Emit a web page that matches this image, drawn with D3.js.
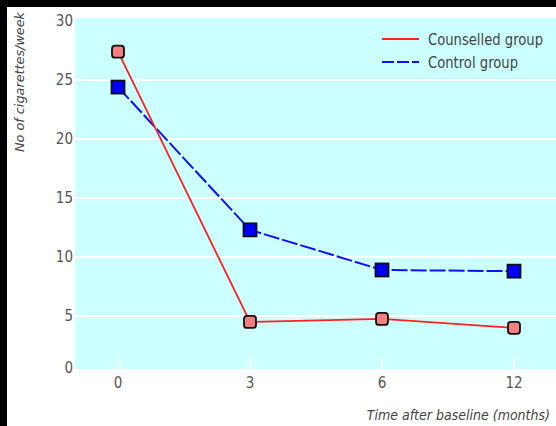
<!DOCTYPE html>
<html>
<head>
<meta charset="utf-8">
<script src="https://cdn.jsdelivr.net/npm/d3@7"></script>
<style>
  html, body { margin: 0; padding: 0; background: #fff; }
  svg { display: block; }
  text { font-family: "DejaVu Sans Condensed", "Liberation Sans Narrow", "DejaVu Sans", sans-serif; font-stretch: condensed; }
</style>
</head>
<body>
<svg id="chart" width="556" height="426"></svg>
<script>
// ---- data ----
const months = ["0", "3", "6", "12"];
const counselled = [27.4, 4.5, 4.75, 4.0];
const control = [24.4, 12.3, 8.9, 8.8];
const yTicks = [0, 5, 10, 15, 20, 25, 30];
const seriesNames = ["Counselled group", "Control group"];
const yTitle = "No of cigarettes/week";
const xTitle = "Time after baseline (months)";

const W = 556, H = 426;
const svg = d3.select("#chart");

// black frame strips (top and left)
svg.append("rect").attr("x", 0).attr("y", 0).attr("width", W).attr("height", 7).attr("fill", "#000");
svg.append("rect").attr("x", 0).attr("y", 0).attr("width", 7).attr("height", H).attr("fill", "#000");

const panel = { left: 75, top: 18, right: 556, bottom: 369 };

const x = d3.scalePoint().domain(months).range([118, 514]);
const y = d3.scaleLinear().domain([0, 30]).range([375, 21]);

// panel background
svg.append("rect")
  .attr("x", panel.left).attr("y", panel.top)
  .attr("width", panel.right - panel.left).attr("height", panel.bottom - panel.top)
  .attr("fill", "#ccffff");

// gridlines
svg.append("g").selectAll("line")
  .data(yTicks.filter(t => t > 0 && t < 30))
  .join("line")
  .attr("x1", panel.left).attr("x2", panel.right)
  .attr("y1", d => y(d)).attr("y2", d => y(d))
  .attr("stroke", "#fff").attr("stroke-width", 2);

// x tick marks (white, inside panel bottom)
svg.append("g").selectAll("line")
  .data(months)
  .join("line")
  .attr("x1", d => x(d)).attr("x2", d => x(d))
  .attr("y1", panel.bottom - 11).attr("y2", panel.bottom)
  .attr("stroke", "#fff").attr("stroke-width", 2);

// y tick labels
svg.append("g").selectAll("text")
  .data(yTicks)
  .join("text")
  .attr("x", 73)
  .attr("y", d => Math.min(y(d), 368))
  .attr("dy", "0.36em")
  .attr("text-anchor", "end")
  .attr("font-size", 15)
  .attr("fill", "#555")
  .text(d => d);

// x tick labels
svg.append("g").selectAll("text")
  .data(months)
  .join("text")
  .attr("x", d => x(d))
  .attr("y", 383)
  .attr("dy", "0.36em")
  .attr("text-anchor", "middle")
  .attr("font-size", 15)
  .attr("fill", "#555")
  .text(d => d);

// axis titles
svg.append("text")
  .attr("transform", "translate(24,82) rotate(-90)")
  .attr("text-anchor", "middle")
  .attr("font-size", 13)
  .attr("font-style", "italic")
  .attr("fill", "#444")
  .attr("textLength", 140)
  .attr("lengthAdjust", "spacingAndGlyphs")
  .text(yTitle);

svg.append("text")
  .attr("x", 550).attr("y", 415)
  .attr("dy", "0.36em")
  .attr("text-anchor", "end")
  .attr("font-size", 14)
  .attr("font-style", "italic")
  .attr("fill", "#444")
  .text(xTitle);

// lines
const line = d3.line().x((d, i) => x(months[i])).y(d => y(d));

svg.append("path")
  .datum(control)
  .attr("d", line)
  .attr("fill", "none")
  .attr("stroke", "#1010ff")
  .attr("stroke-width", 2)
  .attr("stroke-dasharray", "16,3");

svg.append("path")
  .datum(counselled)
  .attr("d", line)
  .attr("fill", "none")
  .attr("stroke", "#ff2020")
  .attr("stroke-width", 1.8);

// markers
const sBlue = 13, sRed = 12;
svg.append("g").selectAll("rect")
  .data(control)
  .join("rect")
  .attr("x", (d, i) => x(months[i]) - sBlue / 2)
  .attr("y", d => y(d) - sBlue / 2)
  .attr("width", sBlue).attr("height", sBlue)
  .attr("fill", "#0000ff")
  .attr("stroke", "#111").attr("stroke-width", 1.8);

svg.append("g").selectAll("rect")
  .data(counselled)
  .join("rect")
  .attr("x", (d, i) => x(months[i]) - sRed / 2)
  .attr("y", d => y(d) - sRed / 2)
  .attr("width", sRed).attr("height", sRed)
  .attr("rx", 3).attr("ry", 3)
  .attr("fill", "#f47f7f")
  .attr("stroke", "#111").attr("stroke-width", 1.8);

// legend
const legend = svg.append("g");
const legItems = [
  { name: seriesNames[0], color: "#ff2020", dash: null, y: 39, len: 115 },
  { name: seriesNames[1], color: "#1010ff", dash: "12,3", y: 62, len: 90 }
];
legItems.forEach(it => {
  legend.append("line")
    .attr("x1", 382).attr("x2", 419)
    .attr("y1", it.y).attr("y2", it.y)
    .attr("stroke", it.color).attr("stroke-width", 2)
    .attr("stroke-dasharray", it.dash);
  legend.append("text")
    .attr("x", 428).attr("y", it.y)
    .attr("dy", "0.36em")
    .attr("font-size", 16)
    .attr("fill", "#444")
    .attr("textLength", it.len)
    .attr("lengthAdjust", "spacingAndGlyphs")
    .text(it.name);
});
</script>
</body>
</html>
